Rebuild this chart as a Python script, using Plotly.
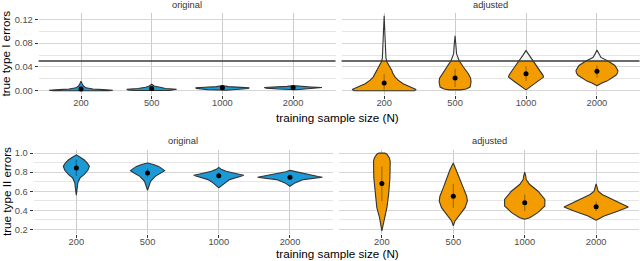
import numpy as np
import plotly.graph_objects as go

# ---------------- data ----------------
sizes = ["200", "500", "1000", "2000"]
threshold = 0.05

# Type I errors, original  (y levels, relative density half-widths)
t1o_200_y = [0.0, 0.001, 0.002, 0.003, 0.005, 0.008, 0.012, 0.016]
t1o_200_d = [28, 32, 22, 12, 5, 2.5, 1.2, 0]
t1o_500_y = [0.0005, 0.0015, 0.0025, 0.004, 0.006, 0.008, 0.011]
t1o_500_d = [18, 24, 25, 14, 6, 2.5, 0]
t1o_1000_y = [0.001, 0.002, 0.004, 0.005, 0.006, 0.007, 0.009]
t1o_1000_d = [4, 15, 26, 27, 18, 6, 0]
t1o_2000_y = [0.0017, 0.003, 0.0045, 0.0055, 0.0065, 0.0075, 0.0087]
t1o_2000_d = [3, 15, 27, 29, 18, 6, 0]
t1o_mean = [0.003, 0.004, 0.005, 0.005]
t1o_lo = [0.0005, 0.001, 0.003, 0.004]
t1o_hi = [0.007, 0.007, 0.007, 0.0065]

# Type I errors, adjusted
t1a_200_y = [0.0, 0.002, 0.005, 0.009, 0.012, 0.018, 0.023, 0.030, 0.034, 0.042, 0.048, 0.055, 0.07, 0.09, 0.126]
t1a_200_d = [30, 32, 28, 23, 19, 14, 11, 8.5, 7.7, 5, 3, 1.8, 1.2, 0.9, 0]
t1a_500_y = [0.0015, 0.003, 0.0063, 0.0147, 0.0213, 0.0287, 0.040, 0.051, 0.062, 0.075, 0.0925]
t1a_500_d = [6, 11, 15, 16, 15.5, 13.3, 8.3, 4, 1.5, 1, 0]
t1a_1000_y = [0.0015, 0.004, 0.0063, 0.0147, 0.023, 0.026, 0.037, 0.0497, 0.059, 0.0675]
t1a_1000_d = [0, 2, 4.5, 11, 17.5, 17, 12.7, 7.5, 3.3, 0]
t1a_2000_y = [0.0085, 0.011, 0.013, 0.0163, 0.021, 0.026, 0.030, 0.034, 0.0425, 0.05, 0.056, 0.062, 0.0687]
t1a_2000_d = [0, 2.5, 5, 10, 15, 19, 20.5, 21, 18, 11, 4, 1.8, 0]
t1a_mean = [0.013, 0.0213, 0.0287, 0.033]
t1a_lo = [0.002, 0.0063, 0.0163, 0.022]
t1a_hi = [0.028, 0.037, 0.041, 0.0425]

# Type II errors, original
t2o_200_y = [0.56, 0.62, 0.688, 0.74, 0.775, 0.82, 0.861, 0.896, 0.93, 0.96, 0.982]
t2o_200_d = [0, 0.8, 1.5, 3.7, 7.7, 11.5, 13, 11, 7.7, 3.5, 0]
t2o_500_y = [0.611, 0.66, 0.705, 0.757, 0.79, 0.816, 0.84, 0.861, 0.88, 0.896]
t2o_500_d = [0, 1.2, 3, 7.7, 13, 17, 14, 11, 6, 0]
t2o_1000_y = [0.636, 0.653, 0.688, 0.7226, 0.757, 0.768, 0.7815, 0.809, 0.83, 0.85]
t2o_1000_d = [0, 2, 5.7, 10.7, 22, 25, 19, 7.3, 2.5, 0]
t2o_2000_y = [0.653, 0.672, 0.688, 0.7226, 0.74, 0.747, 0.755, 0.768, 0.792, 0.805, 0.8195]
t2o_2000_d = [0, 2.5, 5, 13.3, 27, 32.3, 28, 21.7, 10, 4, 0]
t2o_mean = [0.844, 0.792, 0.764, 0.747]
t2o_lo = [0.76, 0.75, 0.735, 0.72]
t2o_hi = [0.93, 0.84, 0.795, 0.77]

# Type II errors, adjusted
t2a_200_y = [0.186, 0.238, 0.325, 0.429, 0.567, 0.740, 0.913, 0.948, 0.989, 1.0]
t2a_200_d = [0, 1, 2.3, 5, 6.7, 8, 8.3, 7.5, 5, 3]
t2a_500_y = [0.238, 0.290, 0.359, 0.429, 0.498, 0.549, 0.636, 0.740, 0.826, 0.896]
t2a_500_d = [0, 1.7, 6.7, 11.7, 14, 13.3, 10, 6, 3.3, 0]
t2a_1000_y = [0.307, 0.324, 0.377, 0.446, 0.515, 0.601, 0.671, 0.723, 0.76, 0.80]
t2a_1000_d = [0, 5, 13, 20, 20, 13.3, 5, 1.5, 1, 0]
t2a_2000_y = [0.297, 0.342, 0.394, 0.435, 0.497, 0.567, 0.601, 0.64, 0.678]
t2a_2000_d = [0, 8, 22, 32, 20, 6, 2, 1, 0]
t2a_mean = [0.681, 0.549, 0.48, 0.439]
t2a_lo = [0.497, 0.429, 0.393, 0.394]
t2a_hi = [0.861, 0.678, 0.567, 0.497]

# ---------------- style ----------------
BLUE = "#1B9AD6"
ORANGE = "#F29C00"
OUTLINE = "#333333"
ABOVE_FILL = "#F4F4F4"
DENS_SCALE = 1.0 / 71.0
FONT = "Liberation Sans, Arial, sans-serif"

fig = go.Figure()


def add_violin(xi, ys, ds, color, xa, ya, clip=None):
    ys = np.asarray(ys, float)
    w = np.asarray(ds, float) * DENS_SCALE

    def poly(yv, wv):
        px = np.concatenate([xi + wv, (xi - wv)[::-1]])
        py = np.concatenate([yv, yv[::-1]])
        px = np.append(px, px[0])
        py = np.append(py, py[0])
        return px, py

    fx, fy = poly(ys, w)
    common = dict(mode="lines", hoverinfo="skip", showlegend=False, xaxis=xa, yaxis=ya)
    if clip is None or ys.max() <= clip:
        fig.add_trace(go.Scatter(x=fx, y=fy, fill="toself", fillcolor=color,
                                 line=dict(color=OUTLINE, width=1.1), **common))
        return
    fig.add_trace(go.Scatter(x=fx, y=fy, fill="toself", fillcolor=ABOVE_FILL,
                             line=dict(width=0), **common))
    m = ys <= clip
    yc = np.append(ys[m], clip)
    wc = np.append(w[m], np.interp(clip, ys, w))
    cx, cy = poly(yc, wc)
    fig.add_trace(go.Scatter(x=cx, y=cy, fill="toself", fillcolor=color,
                             line=dict(width=0), **common))
    fig.add_trace(go.Scatter(x=fx, y=fy, line=dict(color=OUTLINE, width=1.1), **common))


def add_summary(means, lo, hi, xa, ya):
    for i in range(len(means)):
        fig.add_trace(go.Scatter(x=[i + 1, i + 1], y=[lo[i], hi[i]], mode="lines",
                                 line=dict(color="rgba(0,0,0,0.35)", width=1.1),
                                 hoverinfo="skip", showlegend=False, xaxis=xa, yaxis=ya))
    fig.add_trace(go.Scatter(x=list(range(1, len(means) + 1)), y=means, mode="markers",
                             marker=dict(color="black", size=5),
                             hoverinfo="skip", showlegend=False, xaxis=xa, yaxis=ya))


panels = [
    ("x", "y", BLUE, [(t1o_200_y, t1o_200_d), (t1o_500_y, t1o_500_d), (t1o_1000_y, t1o_1000_d), (t1o_2000_y, t1o_2000_d)], (t1o_mean, t1o_lo, t1o_hi), threshold),
    ("x2", "y2", ORANGE, [(t1a_200_y, t1a_200_d), (t1a_500_y, t1a_500_d), (t1a_1000_y, t1a_1000_d), (t1a_2000_y, t1a_2000_d)], (t1a_mean, t1a_lo, t1a_hi), threshold),
    ("x3", "y3", BLUE, [(t2o_200_y, t2o_200_d), (t2o_500_y, t2o_500_d), (t2o_1000_y, t2o_1000_d), (t2o_2000_y, t2o_2000_d)], (t2o_mean, t2o_lo, t2o_hi), None),
    ("x4", "y4", ORANGE, [(t2a_200_y, t2a_200_d), (t2a_500_y, t2a_500_d), (t2a_1000_y, t2a_1000_d), (t2a_2000_y, t2a_2000_d)], (t2a_mean, t2a_lo, t2a_hi), None),
]

for xa, ya, col, vio, summ, clip in panels:
    for i, (yy, dd) in enumerate(vio):
        add_violin(i + 1, yy, dd, col, xa, ya, clip)
    add_summary(*summ, xa, ya)

# ---------------- layout ----------------
W, H = 640, 261


def px_x(p):
    return p / W


def px_y(p):
    return 1 - p / H


xbase = dict(range=[0.4, 4.6], tickmode="array", tickvals=[1, 2, 3, 4], ticktext=sizes,
             showgrid=True, gridcolor="#cbcbcb", gridwidth=1.2, zeroline=False, showline=False,
             ticks="outside", ticklen=3, tickwidth=1, tickcolor="#333333", ticklabelstandoff=-4,
             tickfont=dict(family=FONT, size=9.3, color="#4d4d4d"))
ybase = dict(showgrid=True, gridcolor="#d6d6d6", gridwidth=1.2, zeroline=False, showline=False,
             ticks="outside", ticklen=3, tickwidth=1, tickcolor="#333333",
             tickfont=dict(family=FONT, size=9.3, color="#4d4d4d"))

top_dom = [px_y(94.4), px_y(12)]
bot_dom = [px_y(235), px_y(150)]
top_range = [-0.0065, 0.1308]
bot_range = [0.151, 1.034]
top_minor = dict(dtick=0.02, showgrid=True, gridcolor="#e6e6e6", gridwidth=1, ticks="")
bot_minor = dict(dtick=0.1, showgrid=True, gridcolor="#e6e6e6", gridwidth=1, ticks="")

fig.update_layout(
    width=W, height=H, margin=dict(l=0, r=0, t=0, b=0),
    paper_bgcolor="white", plot_bgcolor="white", showlegend=False,
    xaxis=dict(xbase, domain=[px_x(38.6), px_x(335.5)], anchor="y"),
    xaxis2=dict(xbase, domain=[px_x(341.6), px_x(639.5)], anchor="y2"),
    xaxis3=dict(xbase, domain=[px_x(33.6), px_x(332.7)], anchor="y3"),
    xaxis4=dict(xbase, domain=[px_x(339), px_x(639)], anchor="y4"),
    yaxis=dict(ybase, domain=top_dom, range=top_range, anchor="x", tickvals=[0, 0.04, 0.08, 0.12],
               ticktext=["0.00", "0.04", "0.08", "0.12"], minor=top_minor),
    yaxis2=dict(ybase, domain=top_dom, range=top_range, anchor="x2", tickvals=[0, 0.04, 0.08, 0.12],
                showticklabels=False, ticks="", minor=top_minor),
    yaxis3=dict(ybase, domain=bot_dom, range=bot_range, anchor="x3", tickvals=[0.2, 0.4, 0.6, 0.8, 1.0],
                ticktext=["0.2", "0.4", "0.6", "0.8", "1.0"], minor=bot_minor),
    yaxis4=dict(ybase, domain=bot_dom, range=bot_range, anchor="x4", tickvals=[0.2, 0.4, 0.6, 0.8, 1.0],
                showticklabels=False, ticks="", minor=bot_minor),
)

for xr, yr in [("x", "y"), ("x2", "y2")]:
    fig.add_shape(type="line", xref=f"{xr} domain", yref=yr, x0=0, x1=1, y0=threshold, y1=threshold,
                  line=dict(color="#3a3a3a", width=1.4), layer="above")

ann = []
strip_font = dict(family=FONT, size=9.3, color="#333333")
title_font = dict(family=FONT, size=11.7, color="black")
for text, x, y in [("original", 187, 4.5), ("adjusted", 490.5, 4.5),
                   ("original", 183, 141.5), ("adjusted", 489, 141.5)]:
    ann.append(dict(text=text, x=px_x(x), y=px_y(y), xref="paper", yref="paper",
                    showarrow=False, xanchor="center", yanchor="middle", font=strip_font))
for y in [117.5, 254.5]:
    ann.append(dict(text="training sample size (N)", x=px_x(337), y=px_y(y), xref="paper", yref="paper",
                    showarrow=False, xanchor="center", yanchor="middle", font=title_font))
for text, y in [("true type I errors", 53), ("true type II errors", 192.5)]:
    ann.append(dict(text=text, x=px_x(6), y=px_y(y), xref="paper", yref="paper", textangle=-90,
                    showarrow=False, xanchor="center", yanchor="middle", font=title_font))
fig.update_layout(annotations=ann)

fig.write_html("out.html", config={"displayModeBar": False},
               post_script="document.body.style.margin='0';document.body.style.overflow='hidden';")
